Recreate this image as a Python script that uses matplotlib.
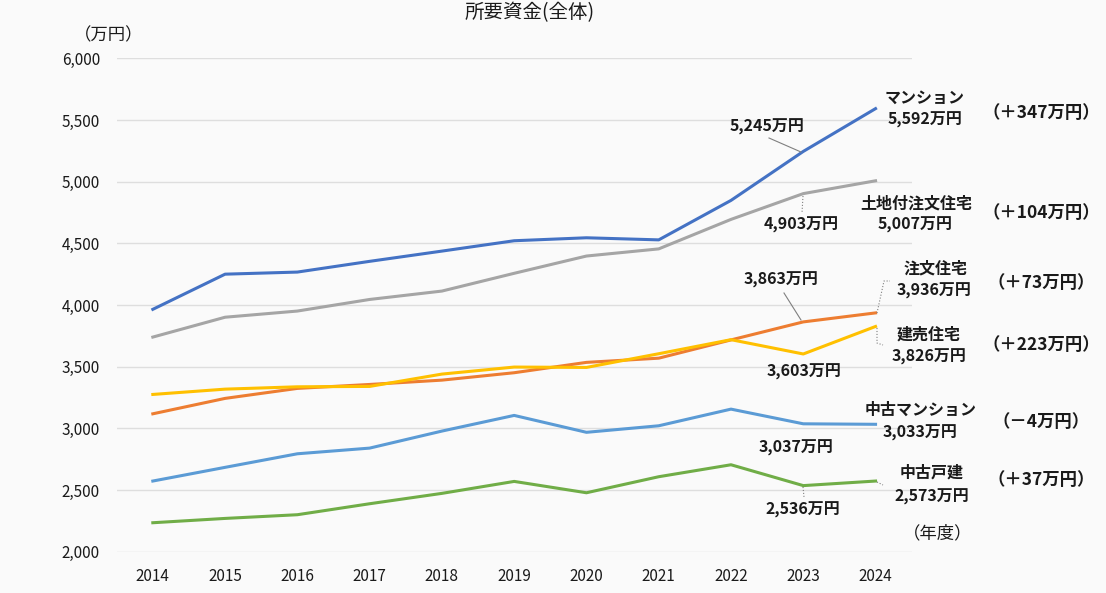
import matplotlib
matplotlib.use("Agg")  # no GUI, save to file only
import matplotlib.pyplot as plt

plt.rcParams["font.family"] = ["Noto Sans CJK JP", "DejaVu Sans"]

# --- data ---
years = [2014, 2015, 2016, 2017, 2018, 2019, 2020, 2021, 2022, 2023, 2024]

mansion      = [3965, 4250, 4267, 4354, 4437, 4521, 4545, 4528, 4848, 5245, 5592]
land_custom  = [3740, 3901, 3951, 4045, 4113, 4257, 4397, 4455, 4694, 4903, 5007]
custom_house = [3118, 3243, 3324, 3356, 3391, 3451, 3535, 3569, 3717, 3863, 3936]
ready_built  = [3275, 3318, 3337, 3340, 3440, 3497, 3494, 3605, 3719, 3603, 3826]
used_mansion = [2573, 2684, 2794, 2840, 2978, 3105, 2968, 3021, 3156, 3037, 3033]
used_house   = [2235, 2270, 2300, 2389, 2473, 2570, 2478, 2608, 2705, 2536, 2573]

series_names = ["マンション", "土地付注文住宅", "注文住宅", "建売住宅", "中古マンション", "中古戸建"]
series_data = [mansion, land_custom, custom_house, ready_built, used_mansion, used_house]
series_colors = ["#4472C4", "#A5A5A5", "#ED7D31", "#FFC000", "#5B9BD5", "#70AD47"]
diff_labels = ["（＋347万円）", "（＋104万円）", "（＋73万円）", "（＋223万円）", "（－4万円）", "（＋37万円）"]

bg = "#FAFAFA"
fig = plt.figure(figsize=(11.06, 5.93), dpi=100, facecolor=bg)
ax = fig.add_axes([0.1055, 0.0696, 0.7188, 0.8321], facecolor=bg)

# yellow drawn above orange as in the original
order = [1, 0, 4, 5, 2, 3]
for i in order:
    ax.plot(years, series_data[i], color=series_colors[i], lw=2.2, zorder=3)

ax.set_xlim(2013.5, 2024.5)
ax.set_ylim(2000, 6000)
ax.set_yticks(range(2000, 6001, 500))
ax.set_yticklabels([f"{v:,}" for v in range(2000, 6001, 500)])
ax.set_xticks(years)
ax.set_xticklabels([str(y) for y in years])
ax.grid(axis="y", color="#DEDEDE", lw=1.0)
ax.set_axisbelow(True)
for s in ax.spines.values():
    s.set_visible(False)
ax.tick_params(length=0, labelsize=11, colors="#1A1A1A")
ax.tick_params(axis="x", pad=12)
ax.tick_params(axis="y", pad=12)

tc = "#1A1A1A"
fs = 11.5
fig.text(0.479, 0.978, "所要資金(全体)", ha="center", va="center", fontsize=14, color=tc)
fig.text(0.098, 0.941, "（万円）", ha="center", va="center", fontsize=12.5, color=tc)
fig.text(0.848, 0.101, "（年度）", ha="center", va="center", fontsize=12.5, color=tc)

# labels at right end (display coordinates in pixels -> figure fraction)
W, H = 1106, 593
def ft(x, y, s, size=fs):
    fig.text(x / W, 1 - y / H, s, ha="center", va="center", fontsize=size,
             color=tc, fontweight="bold")

name_pos = [(925, 98), (916, 203), (936, 268), (929, 335), (921, 410), (932, 473)]
val_pos = [(925, 120), (915, 225), (934, 291), (929, 357), (920, 433), (932, 497)]
diff_pos = [(1041, 113), (1041, 213), (1041, 283), (1041, 345), (1041, 422), (1041, 480)]
for i in range(6):
    ft(*name_pos[i], series_names[i])
    ft(*val_pos[i], f"{series_data[i][-1]:,}万円")
    ft(*diff_pos[i], diff_labels[i], size=12.5)

# 2023 value labels
ft(767, 127, f"{mansion[9]:,}万円")
ft(801, 225, f"{land_custom[9]:,}万円")
ft(781, 280, f"{custom_house[9]:,}万円")
ft(804, 372, f"{ready_built[9]:,}万円")
ft(796, 448, f"{used_mansion[9]:,}万円")
ft(803, 510, f"{used_house[9]:,}万円")

# leader lines
def leader(pts, ls="-"):
    xs = [p[0] / W for p in pts]
    ys = [1 - p[1] / H for p in pts]
    fig.add_artist(plt.Line2D(xs, ys, color="#7F7F7F", lw=0.8, ls=ls))

leader([(769, 138), (801, 152)])
leader([(803, 196), (802, 213)], ":")
leader([(784, 293), (801, 320)])
leader([(877, 313), (884, 281), (890, 281)], ":")
leader([(877, 328), (877, 343), (883, 345)], ":")
leader([(803, 487), (804, 497)], ":")
leader([(877, 482), (883, 485)], ":")

fig.savefig("out.png", dpi=100, facecolor=bg)
